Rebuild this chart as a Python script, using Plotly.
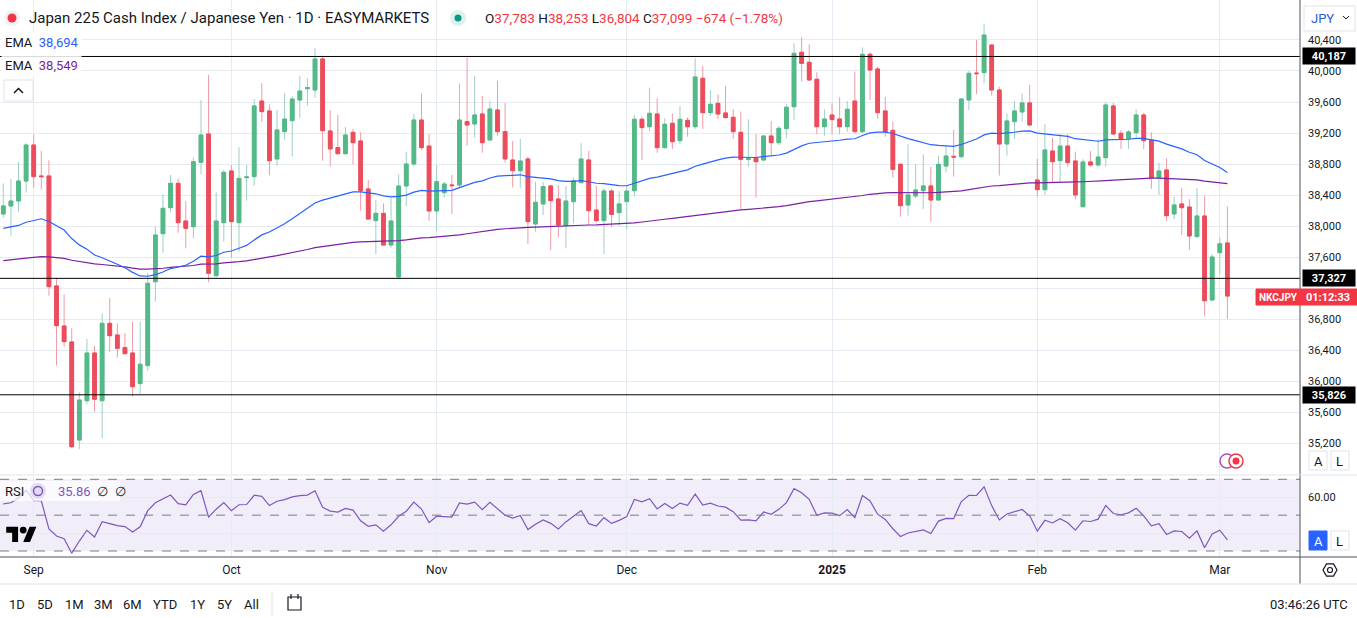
import math
import pandas as pd
import plotly.graph_objects as go
from plotly.subplots import make_subplots

# ---------------- data ----------------
# one bar per day except Saturday, 2024-08-27 .. 2025-03-03
dates = [d for d in pd.date_range("2024-08-27", "2025-03-03") if d.dayofweek != 5]

open_ = [38157, 38260, 38324, 38582, 39046, 38647, 38647, 37229, 36713, 36507,
         35243, 35750, 36365, 35750, 36747, 36597, 36434, 36365, 35970, 36202,
         37284, 37903, 38238, 38552, 38066, 37993, 38823, 39188, 37362, 38045,
         38711, 38045, 38625, 38638, 39613, 39485, 38866, 39218, 39360, 39626,
         39772, 39755, 40155, 39227, 39012, 38934, 39209, 39098, 38479, 38071,
         38165, 37757, 37345, 38518, 38801, 39368, 39033, 38195, 38432, 38531,
         38531, 39347, 39317, 39446, 39111, 39497, 39218, 38853, 38715, 38866,
         38028, 38286, 38518, 38350, 38006, 38316, 38561, 38853, 38208, 38071,
         38453, 38174, 38316, 38457, 39377, 39282, 39446, 39012, 39326, 39102,
         39364, 39282, 39906, 39463, 39583, 39459, 39403, 39209, 38861, 38874,
         38853, 39162, 39076, 39257, 39540, 40241, 40112, 39893, 39282, 39433,
         39381, 39282, 39613, 39218, 40215, 40026, 39485, 39235, 38797, 38273,
         38389, 38457, 38518, 38337, 38775, 38900, 38896, 39626, 39974, 39979,
         40335, 39755, 39059, 39347, 39472, 39588, 38595, 38470, 38969, 38844,
         39033, 38840, 38251, 38827, 38788, 38883, 39549, 39197, 39128, 39205,
         39433, 39111, 38625, 38724, 38157, 38286, 38247, 37865, 38131, 37048,
         37658, 37783]
high = [38552, 38608, 38827, 39068, 39184, 38969, 38849, 37336, 37121, 36683,
        35858, 36545, 36455, 36876, 37070, 36747, 36618, 36769, 36769, 37392,
        37993, 38410, 38659, 38616, 38324, 38883, 39626, 39949, 38436, 38724,
        38788, 39016, 38788, 39639, 39841, 39570, 39497, 39712, 39678, 39936,
        39906, 40292, 40198, 39497, 39433, 39278, 39252, 39209, 38595, 38333,
        38294, 38359, 38668, 38960, 39446, 39712, 39188, 38788, 38573, 38659,
        39841, 40172, 39936, 39678, 39613, 39871, 39588, 39098, 39124, 38896,
        38573, 38573, 38531, 38531, 38518, 38629, 39068, 38969, 38518, 38488,
        38479, 38453, 38522, 39433, 39411, 39785, 39648, 39390, 39454, 39549,
        39403, 40163, 40065, 39755, 39699, 39807, 39506, 39476, 39377, 39188,
        39175, 39356, 39291, 39570, 40357, 40434, 40344, 39983, 39506, 39583,
        39661, 39613, 39992, 40305, 40241, 40056, 39665, 39347, 38810, 39055,
        38797, 38926, 38767, 38904, 39033, 39240, 39648, 40000, 40400, 40602,
        40344, 39798, 39454, 39613, 39712, 39820, 38866, 39317, 39141, 39188,
        39188, 38960, 38861, 38969, 39119, 39596, 39588, 39240, 39240, 39506,
        39463, 39209, 38819, 38874, 38380, 38496, 38350, 38488, 38393, 37637,
        37852, 38253]
low = [38109, 37877, 38187, 38432, 38496, 38470, 37104, 36202, 36447, 35136,
       35127, 35703, 35609, 35265, 36382, 36305, 36352, 35802, 35836, 36137,
       37027, 37658, 38178, 37916, 37714, 37843, 38668, 37276, 37340, 37800,
       37594, 37671, 38329, 38522, 39347, 38659, 38780, 39111, 38896, 39399,
       39553, 39656, 38844, 38767, 38926, 38917, 38797, 38200, 38080, 37641,
       37748, 37723, 37327, 38260, 38767, 38982, 38071, 37938, 38367, 38157,
       38496, 39038, 39141, 38947, 39100, 39166, 38818, 38496, 38496, 37770,
       37929, 38144, 37693, 37852, 37714, 38036, 38550, 38015, 38049, 37641,
       37993, 38006, 37959, 38380, 38853, 39227, 38947, 39000, 38995, 39059,
       39154, 39252, 39252, 39420, 39381, 39390, 39124, 38221, 38767, 38367,
       38840, 38896, 39046, 39132, 39368, 39863, 39870, 39184, 39166, 39184,
       39184, 39218, 39200, 39200, 39626, 39381, 39154, 38625, 38122, 38135,
       38359, 38221, 38058, 38324, 38690, 38638, 38880, 39497, 39704, 39841,
       39682, 38651, 38909, 39124, 39347, 39291, 38380, 38402, 38573, 38573,
       38767, 38346, 38240, 38767, 38767, 38767, 39175, 38995, 38995, 39141,
       38995, 38479, 38402, 38066, 38092, 37886, 37693, 37850, 36842, 37030,
       37379, 36804]
close = [38260, 38324, 38582, 39046, 38638, 38638, 37220, 36717, 36511, 35157,
         35759, 36365, 35768, 36747, 36588, 36425, 36356, 35931, 36219, 37263,
         37886, 38230, 38552, 38045, 37972, 38831, 39175, 37392, 38066, 38694,
         38058, 38616, 38634, 39549, 39476, 38844, 39240, 39381, 39639, 39742,
         39785, 40155, 39231, 38995, 38934, 39175, 39076, 38457, 38092, 38165,
         37757, 38066, 38518, 38801, 39368, 39012, 38195, 38573, 38543, 38522,
         39368, 39304, 39433, 39076, 39510, 39218, 38866, 38715, 38840, 38058,
         38307, 38509, 38329, 38015, 38324, 38586, 38866, 38200, 38071, 38453,
         38152, 38286, 38453, 39377, 39270, 39454, 39012, 39313, 39089, 39377,
         39282, 39923, 39463, 39570, 39446, 39399, 39218, 38861, 38870, 38831,
         39162, 39076, 39261, 39532, 40228, 40099, 39884, 39282, 39381, 39373,
         39282, 39506, 39218, 40215, 40013, 39463, 39218, 38732, 38264, 38402,
         38466, 38518, 38337, 38797, 38904, 38891, 39639, 39970, 39966, 40464,
         39755, 39059, 39356, 39485, 39588, 39304, 38470, 38982, 38831, 39033,
         38819, 38402, 38827, 38788, 38891, 39562, 39188, 39128, 39214, 39433,
         39102, 38625, 38711, 38135, 38273, 38238, 37873, 38131, 37039, 37602,
         37773, 37099]

ema_fast_period, ema_fast_start = 50, 37972
ema_slow_period, ema_slow_start = 200, 37555
rsi_period, rsi_avg_gain_start, rsi_avg_loss_start = 14, 180, 140

# horizontal levels drawn on the chart
levels = [40187, 37327, 35826]
level_labels = ["40,187", "37,327", "35,826"]

month_labels = ["Sep", "Oct", "Nov", "Dec", "<b>2025</b>", "Feb", "Mar"]
price_ticks = list(range(35200, 40401, 400))
hidden_price_ticks = [37200]          # covered by the live price label

header_title = "Japan 225 Cash Index / Japanese Yen · 1D · EASYMARKETS"
header_ohlc = ["37,783", "38,253", "36,804", "37,099", "−674 (−1.78%)"]
ema_fast_label, ema_slow_label = "38,694", "38,549"
rsi_label = "35.86"
range_buttons = ["1D", "5D", "1M", "3M", "6M", "YTD", "1Y", "5Y", "All"]

# ---------------- indicators ----------------
def ema(values, period, seed):
    a = 2.0 / (period + 1)
    out = [seed]
    for v in values[1:]:
        out.append(out[-1] + a * (v - out[-1]))
    return out


def rsi(values, period, g0, l0):
    g, l = g0, l0
    out = [100 * g / (g + l)]
    for prev, cur in zip(values[:-1], values[1:]):
        ch = cur - prev
        g = (g * (period - 1) + max(ch, 0)) / period
        l = (l * (period - 1) + max(-ch, 0)) / period
        out.append(100 * g / (g + l))
    return out


ema_fast = ema(close, ema_fast_period, ema_fast_start)
ema_slow = ema(close, ema_slow_period, ema_slow_start)
rsi_vals = rsi(close, rsi_period, rsi_avg_gain_start, rsi_avg_loss_start)

idx = list(range(len(dates)))
month_idx = [i for i in range(1, len(dates)) if dates[i].month != dates[i - 1].month]
body_hi = [max(o, c) for o, c in zip(open_, close)]
body_lo = [min(o, c) for o, c in zip(open_, close)]
price_ticktext = ["" if t in hidden_price_ticks else f"{t:,}" for t in price_ticks]

# ---------------- styling ----------------
FONT = "Roboto"
TXT = "#131722"
GRID = "#e6ebf2"
UP, DN = "#53b987", "#ec4c5c"
UP_W, DN_W = "#9fcfc3", "#f09aa4"
BLUE, PURPLE, RSI_C = "#2962ff", "#7b1fa2", "#7e57c2"
RED = "#f23645"

W, H = 1357, 618
PL, PR, PT, PB = 0, 1300, 0, 557


def X(px):
    return (px - PL) / (PR - PL)


def Y(py):
    return 1 - (py - PT) / (PB - PT)


fig = make_subplots(rows=2, cols=1, shared_xaxes=True)

fig.add_trace(go.Candlestick(
    x=idx, open=open_, high=high, low=low, close=close,
    increasing=dict(line=dict(color=UP_W, width=1), fillcolor=UP),
    decreasing=dict(line=dict(color=DN_W, width=1), fillcolor=DN),
    whiskerwidth=0, hoverinfo="skip"), row=1, col=1)
fig.add_trace(go.Candlestick(
    x=idx, open=open_, high=body_hi, low=body_lo, close=close,
    increasing=dict(line=dict(color=UP, width=1), fillcolor=UP),
    decreasing=dict(line=dict(color=DN, width=1), fillcolor=DN),
    whiskerwidth=0, hoverinfo="skip"), row=1, col=1)
fig.add_trace(go.Scatter(x=idx, y=ema_slow, mode="lines",
                         line=dict(color=PURPLE, width=1.2), hoverinfo="skip"), row=1, col=1)
fig.add_trace(go.Scatter(x=idx, y=ema_fast, mode="lines",
                         line=dict(color=BLUE, width=1.2), hoverinfo="skip"), row=1, col=1)
fig.add_trace(go.Scatter(x=idx, y=rsi_vals, mode="lines",
                         line=dict(color=RSI_C, width=1.2), hoverinfo="skip"), row=2, col=1)

x_rng = [-0.434, 170.55]
main_dom = [Y(474), 1]
rsi_dom = [0, Y(476)]

fig.update_xaxes(range=x_rng, tickvals=month_idx, ticktext=month_labels,
                 showgrid=True, gridcolor=GRID, gridwidth=1, zeroline=False,
                 ticks="", showline=False, rangeslider_visible=False,
                 tickfont=dict(size=12, color=TXT, family=FONT))
fig.update_xaxes(showticklabels=False, row=1, col=1)
fig.update_xaxes(showticklabels=True, ticklabelstandoff=4, row=2, col=1)

fig.update_yaxes(side="right", domain=main_dom, range=[34805, 40915],
                 tickvals=price_ticks, ticktext=price_ticktext, showgrid=True, gridcolor=GRID,
                 zeroline=False, ticks="", ticklabelstandoff=7,
                 tickfont=dict(size=11, color=TXT, family=FONT), row=1, col=1)
fig.update_yaxes(side="right", domain=rsi_dom, range=[26.65, 71.84],
                 tickvals=[40, 60], ticktext=["", "60.00"], showgrid=True, gridcolor=GRID,
                 zeroline=False, ticks="", ticklabelstandoff=7,
                 tickfont=dict(size=11, color=TXT, family=FONT), row=2, col=1)

shapes = []
anns = []


def rect(x0, y0, x1, y1, fill="white", line="#e0e3eb", lw=1, layer="above"):
    shapes.append(dict(type="rect", xref="paper", yref="paper", x0=X(x0), x1=X(x1),
                       y0=Y(y0), y1=Y(y1), fillcolor=fill,
                       line=dict(color=line, width=lw), layer=layer))


def hline(y, x0=0, x1=W, color="#e0e3eb", lw=1):
    shapes.append(dict(type="line", xref="paper", yref="paper", x0=X(x0), x1=X(x1),
                       y0=Y(y), y1=Y(y), line=dict(color=color, width=lw)))


def vline(x, y0, y1, color="#e0e3eb", lw=1):
    shapes.append(dict(type="line", xref="paper", yref="paper", x0=X(x), x1=X(x),
                       y0=Y(y0), y1=Y(y1), line=dict(color=color, width=lw)))


def circle(cx, cy, r, fill="white", line="rgba(0,0,0,0)", lw=1):
    shapes.append(dict(type="circle", xref="paper", yref="paper", x0=X(cx - r), x1=X(cx + r),
                       y0=Y(cy + r), y1=Y(cy - r), fillcolor=fill, line=dict(color=line, width=lw)))


def path(points, fill=None, line="rgba(0,0,0,0)", lw=1, closed=True):
    d = "M " + " L ".join(f"{X(px):.6f},{Y(py):.6f}" for px, py in points)
    if closed:
        d += " Z"
    s = dict(type="path", xref="paper", yref="paper", path=d, line=dict(color=line, width=lw))
    if fill:
        s["fillcolor"] = fill
    shapes.append(s)


def text(x, y, t, size=13, color=TXT, xanchor="left", **kw):
    anns.append(dict(xref="paper", yref="paper", x=X(x), y=Y(y), text=t, showarrow=False,
                     xanchor=xanchor, yanchor="middle",
                     font=dict(size=size, color=color, family=FONT), **kw))


# RSI band and levels
shapes.append(dict(type="rect", xref="x2", yref="y2", x0=x_rng[0], x1=x_rng[1], y0=30, y1=70,
                   fillcolor="rgba(126,87,194,0.10)", line=dict(width=0), layer="below"))
for lv in (70, 50, 30):
    shapes.append(dict(type="line", xref="paper", yref="y2", x0=0, x1=1, y0=lv, y1=lv,
                       line=dict(color="#787b86", width=1, dash="dash")))

# horizontal price levels
for lv, lab in zip(levels, level_labels):
    shapes.append(dict(type="line", xref="paper", yref="y", x0=0, x1=1, y0=lv, y1=lv,
                       line=dict(color="#000000", width=1)))
    anns.append(dict(xref="paper", yref="y", x=X(1302), y=lv, text=f"<b>{lab}</b>",
                     showarrow=False, xanchor="left", yanchor="middle", bgcolor="#000000",
                     width=50, height=14, align="center",
                     font=dict(size=11, color="white", family=FONT)))

# frame lines
vline(1300, 0, 584, color="#50535e")
hline(557, color="#50535e")
hline(475, color="#e0e3eb")
hline(584, color="#e0e3eb")

# header
circle(12, 18, 8, fill="#f0f3fa")
circle(12, 18, 4.5, fill=RED)
text(27, 18, header_title, size=15)
circle(458, 18, 8, fill="#dff3ee")
circle(458, 18, 3.5, fill="#089981")
o, h, l, c, ch = header_ohlc
sp = f"<span style='color:{RED}'>"
text(483, 18, f"O{sp}{o}</span> H{sp}{h}</span> L{sp}{l}</span> C{sp}{c}</span> {sp}{ch}</span>",
     size=13.5)
text(1, 42, f"EMA  <span style='color:{BLUE}'>{ema_fast_label}</span>", size=13,
     bgcolor="rgba(255,255,255,0.85)", borderpad=3)
text(1, 66, f"EMA  <span style='color:{PURPLE}'>{ema_slow_label}</span>", size=13,
     bgcolor="rgba(255,255,255,0.85)", borderpad=3)
rect(4, 80, 33, 101)
path([(14, 93), (18.5, 88.5), (23, 93)], line=TXT, lw=1.5, closed=False)

# right side widgets
rect(1304, 6, 1355, 31)
text(1309, 18.5, "JPY", size=13, color="#2a5bd7")
path([(1343, 16), (1346, 19), (1349, 16)], line=TXT, lw=1, closed=False)
rect(1256, 289, 1300, 305, fill=RED, line=RED)
text(1278, 297, "<b>NKCJPY</b>", size=10, color="white", xanchor="center")
rect(1300, 289, 1357, 305, fill=RED, line=RED)
text(1328, 297, "<b>01:12:33</b>", size=11, color="white", xanchor="center")
rect(1309, 451, 1327, 470)
text(1318, 461, "A", size=13, xanchor="center")
rect(1331, 451, 1349, 470)
text(1340, 461, "L", size=13, xanchor="center")
rect(1309, 531, 1327, 550, fill=BLUE, line=BLUE)
text(1318, 541, "A", size=13, color="white", xanchor="center")
rect(1331, 531, 1349, 550)
text(1340, 541, "L", size=13, xanchor="center")
circle(1227, 461, 7, fill="white", line="#b04fc0", lw=1.5)
circle(1236, 461, 7, fill="white", line=RED, lw=1.5)
circle(1236, 461, 3.5, fill=RED)

# RSI legend
rect(0, 481, 120, 501, fill="rgba(255,255,255,0.7)", line="rgba(0,0,0,0)")
text(3, 491, "RSI", size=13)
circle(38, 491, 8, fill="#e3dcf3")
circle(38, 491, 4.5, fill="rgba(0,0,0,0)", line=RSI_C, lw=1.5)
text(56, 491, f"<span style='color:{RSI_C}'>{rsi_label}</span>  ∅  ∅", size=13)

# TradingView logo
s, ox, oy = 0.85, 6.2, 523.3


def lp(pts):
    return [(ox + s * a, oy + s * b) for a, b in pts]


path(lp([(14, 22), (7, 22), (7, 11), (0, 11), (0, 4), (14, 4)]), fill="#000000")
path(lp([(28, 22), (20, 22), (27.5, 4), (35.5, 4)]), fill="#000000")
circle(ox + s * 20, oy + s * 8, s * 4, fill="#000000")

# settings icon
hexpts = [(1330 + 7 * math.cos(math.radians(a)), 570 + 7 * math.sin(math.radians(a)))
          for a in range(0, 360, 60)]
path(hexpts, line=TXT, lw=1.2)
circle(1330, 570, 2.5, fill="white", line=TXT, lw=1.2)

# bottom toolbar
btn_x = [17, 45, 74, 103, 132, 165, 197, 224, 252]
for bx, lab in zip(btn_x, range_buttons):
    text(bx, 604, lab, size=13, xanchor="center")
vline(272, 591, 617)
rect(288, 597, 301, 610, fill="white", line=TXT, lw=1.2)
vline(291, 594, 599, color=TXT, lw=1.2)
vline(298, 594, 599, color=TXT, lw=1.2)
text(1350, 604, "03:46:26 UTC", size=13, xanchor="right")

fig.update_layout(
    width=W, height=H, margin=dict(l=PL, r=W - PR, t=PT, b=H - PB),
    paper_bgcolor="white", plot_bgcolor="white", showlegend=False,
    hovermode=False, dragmode=False, font=dict(family=FONT, color=TXT),
    shapes=shapes, annotations=anns,
)

fig.write_html("out.html", config={"displayModeBar": False},
               post_script="document.body.style.margin='0px';"
                           "document.body.style.overflow='hidden';")
